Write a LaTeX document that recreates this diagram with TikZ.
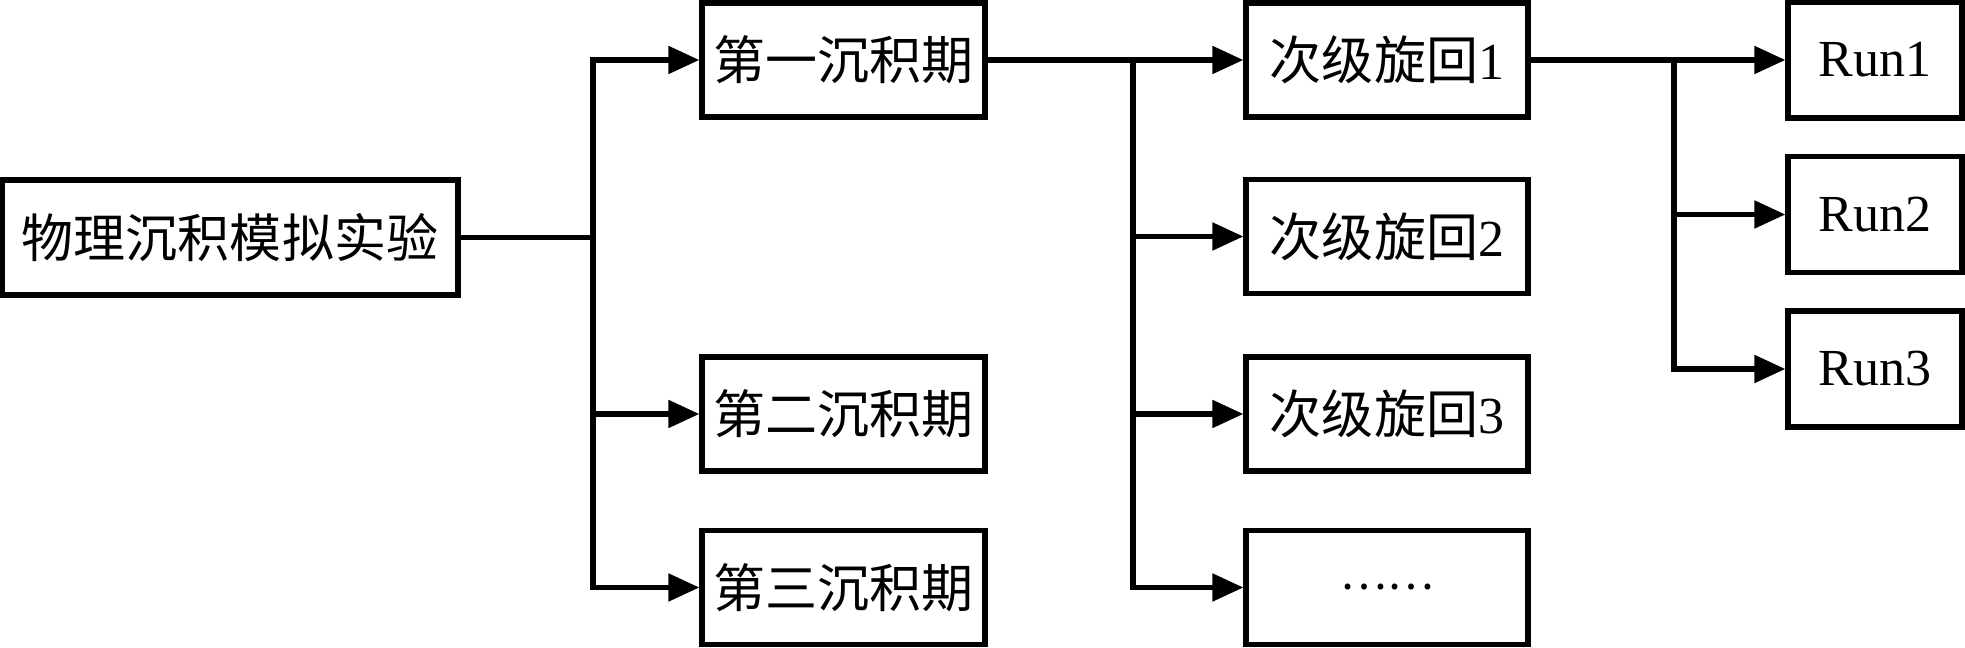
\documentclass[tikz,border=0pt]{standalone}
\usepackage{fontspec}
\setmainfont{Liberation Serif}
\newfontfamily\cjk{Noto Sans CJK SC}
\usetikzlibrary{arrows.meta}
\tikzset{
  box/.style={draw, line width=1.5pt, inner sep=0pt, font=\fontsize{14.8pt}{17pt}\selectfont},
  rootbox/.style={box, minimum width=4.56cm, minimum height=1.15cm},
  l1box/.style={box, minimum width=2.83cm, minimum height=1.14cm},
  runbox/.style={box, minimum width=1.74cm, minimum height=1.16cm},
  conn/.style={line width=1.5pt},
  trunk/.style={line width=1.5pt, line cap=rect},
  arr/.style={line width=1.5pt, -{Triangle[length=0.31cm, width=0.27cm]}}
}
\begin{document}
\begin{tikzpicture}
\useasboundingbox (0,0) rectangle (19.65,-6.48);
% root
\node[rootbox] (root) at (2.30,-2.375) {{\cjk 物理沉积模拟实验}};
% level 1
\node[l1box] (a1) at (8.435,-0.60) {{\cjk 第一沉积期}};
\node[l1box] (a2) at (8.435,-4.14) {{\cjk 第二沉积期}};
\node[l1box] (a3) at (8.435,-5.875) {{\cjk 第三沉积期}};
% level 2
\node[l1box, minimum width=2.82cm] (b1) at (13.87,-0.60) {{\cjk 次级旋回}1};
\node[l1box, minimum width=2.82cm] (b2) at (13.87,-2.365) {{\cjk 次级旋回}2};
\node[l1box, minimum width=2.82cm] (b3) at (13.87,-4.14) {{\cjk 次级旋回}3};
\node[l1box, minimum width=2.82cm] (b4) at (13.87,-5.875) {{\cjk\fontsize{12.5pt}{15pt}\selectfont ……}};
% runs
\node[runbox] (r1) at (18.75,-0.60) {Run1};
\node[runbox] (r2) at (18.75,-2.145) {Run2};
\node[runbox] (r3) at (18.75,-3.69) {Run3};
% junction coordinates
\coordinate (j1) at (5.93,-2.375);
\coordinate (j2) at (11.33,-0.60);
\coordinate (j3) at (16.74,-0.60);
% root to level 1
\draw[conn] (root.east) -- (j1);
\draw[trunk] (j1 |- a1.west) -- (j1 |- a3.west);
\draw[arr] (j1 |- a1.west) -- (a1.west);
\draw[arr] (j1 |- a2.west) -- (a2.west);
\draw[arr] (j1 |- a3.west) -- (a3.west);
% level 1 to level 2
\draw[arr] (a1.east) -- (b1.west);
\draw[trunk] (j2) -- (j2 |- b4.west);
\draw[arr] (j2 |- b2.west) -- (b2.west);
\draw[arr] (j2 |- b3.west) -- (b3.west);
\draw[arr] (j2 |- b4.west) -- (b4.west);
% level 2 to runs
\draw[arr] (b1.east) -- (r1.west);
\draw[trunk] (j3) -- (j3 |- r3.west);
\draw[arr] (j3 |- r2.west) -- (r2.west);
\draw[arr] (j3 |- r3.west) -- (r3.west);
\end{tikzpicture}
\end{document}
